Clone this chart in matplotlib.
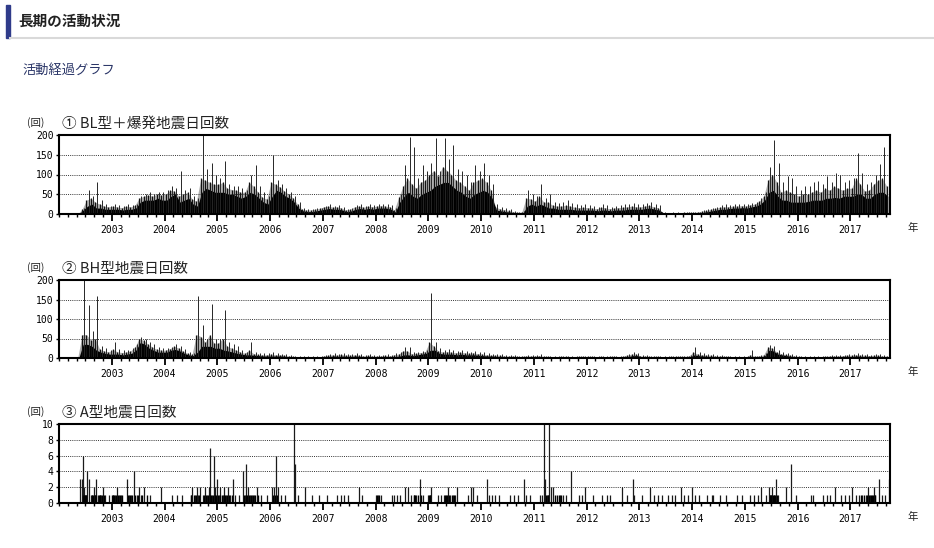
import numpy as np
import matplotlib
matplotlib.use("Agg")
import matplotlib.pyplot as plt
from matplotlib.ticker import FixedLocator

plt.rcParams['font.family'] = ['Noto Sans CJK JP', 'DejaVu Sans']

# monthly readings, Jan 2002 .. Sep 2017 (one row per year)
# base = dense daily level, mid = a typical spike, peak = highest day of month
bl_base = [
    0, 0, 0, 0, 0, 10, 20, 25, 15, 15, 12, 12,          # 2002
    12, 12, 10, 12, 12, 15, 30, 35, 35, 35, 40, 35,     # 2003
    35, 45, 50, 30, 35, 40, 25, 20, 55, 65, 60, 55,     # 2004
    55, 55, 50, 50, 45, 40, 45, 55, 50, 40, 30, 25,     # 2005
    45, 60, 55, 45, 40, 30, 15, 8, 6, 6, 8, 10,         # 2006
    12, 14, 12, 12, 10, 6, 8, 12, 14, 12, 14, 12,       # 2007
    15, 15, 15, 12, 5, 30, 45, 55, 45, 40, 50, 55,      # 2008
    60, 70, 75, 80, 80, 70, 60, 55, 45, 40, 50, 55,     # 2009
    60, 55, 40, 10, 8, 6, 5, 3, 2, 2, 20, 25,           # 2010
    20, 25, 20, 15, 15, 12, 12, 12, 12, 10, 10, 10,     # 2011
    10, 10, 8, 10, 10, 8, 10, 10, 10, 12, 12, 12,       # 2012
    12, 14, 15, 12, 10, 2, 1, 1, 1, 1, 2, 2,            # 2013
    2, 3, 4, 6, 8, 10, 12, 12, 14, 15, 15, 16,          # 2014
    15, 18, 20, 25, 35, 55, 60, 45, 35, 35, 30, 30,     # 2015
    30, 30, 32, 35, 35, 35, 40, 40, 42, 40, 45, 45,     # 2016
    45, 50, 50, 40, 40, 50, 55, 55, 45,                 # 2017
]
bl_mid = [
    0, 0, 0, 0, 0, 12, 35, 40, 30, 25, 20, 18,
    20, 18, 16, 20, 18, 22, 40, 45, 48, 45, 50, 48,
    50, 60, 58, 45, 50, 55, 38, 32, 90, 85, 80, 75,
    75, 80, 65, 62, 60, 55, 55, 80, 70, 55, 42, 38,
    80, 75, 68, 58, 50, 40, 25, 12, 10, 10, 12, 14,
    18, 20, 17, 18, 15, 10, 12, 18, 20, 17, 20, 18,
    20, 21, 20, 18, 10, 42, 70, 90, 75, 65, 80, 85,
    100, 110, 95, 120, 110, 100, 85, 80, 70, 60, 80, 85,
    90, 80, 60, 18, 13, 11, 9, 6, 4, 5, 40, 38,
    32, 45, 30, 30, 22, 20, 20, 22, 20, 17, 16, 17,
    16, 15, 13, 17, 16, 13, 15, 16, 17, 18, 20, 18,
    18, 20, 22, 18, 16, 4, 2, 3, 2, 2, 4, 4,
    4, 5, 7, 9, 12, 14, 17, 18, 18, 20, 20, 21,
    20, 23, 25, 32, 45, 85, 100, 80, 55, 60, 55, 50,
    45, 50, 50, 55, 60, 55, 65, 60, 70, 65, 60, 65,
    65, 90, 75, 58, 60, 75, 85, 90, 70,
]
bl_peak = [
    0, 0, 0, 0, 0, 15, 60, 45, 80, 35, 25, 20,
    25, 22, 20, 25, 22, 25, 45, 50, 55, 50, 55, 55,
    60, 70, 65, 110, 60, 65, 45, 40, 200, 115, 130, 100,
    90, 135, 75, 70, 70, 65, 60, 100, 125, 70, 55, 45,
    150, 85, 75, 65, 55, 45, 30, 15, 12, 12, 15, 15,
    20, 25, 20, 22, 18, 12, 15, 22, 25, 20, 25, 22,
    25, 25, 25, 22, 15, 50, 125, 195, 170, 90, 125, 110,
    130, 192, 110, 192, 140, 175, 115, 110, 100, 80, 125, 110,
    130, 100, 75, 25, 18, 15, 12, 8, 6, 8, 60, 50,
    45, 75, 40, 50, 30, 28, 30, 35, 28, 25, 22, 25,
    22, 20, 18, 25, 22, 18, 20, 22, 25, 25, 28, 25,
    25, 28, 30, 25, 22, 5, 3, 5, 4, 3, 5, 5,
    5, 6, 10, 12, 15, 18, 22, 25, 22, 25, 25, 25,
    25, 28, 30, 40, 55, 120, 188, 128, 80, 97, 90, 70,
    60, 70, 70, 80, 84, 75, 97, 80, 103, 100, 80, 85,
    90, 155, 105, 75, 80, 100, 127, 169, 100,
]
bh_base = [
    0, 0, 0, 0, 0, 35, 35, 30, 20, 15, 12, 10,
    10, 10, 8, 10, 12, 20, 40, 35, 25, 20, 15, 15,
    15, 20, 22, 18, 12, 8, 6, 15, 30, 30, 30, 25,
    25, 20, 18, 15, 12, 10, 8, 8, 7, 6, 5, 5,
    5, 5, 5, 4, 3, 2, 2, 1, 1, 2, 2, 2,
    3, 4, 5, 4, 5, 4, 4, 5, 4, 3, 4, 3,
    3, 3, 4, 3, 4, 5, 8, 8, 6, 8, 10, 12,
    20, 20, 12, 10, 10, 10, 8, 10, 8, 8, 8, 7,
    6, 5, 5, 4, 4, 3, 3, 3, 2, 2, 3, 3,
    3, 3, 2, 2, 2, 2, 2, 2, 2, 2, 2, 2,
    2, 2, 2, 2, 2, 2, 2, 2, 2, 4, 6, 6,
    3, 3, 2, 2, 2, 2, 2, 2, 2, 2, 2, 3,
    8, 6, 5, 4, 4, 3, 3, 2, 2, 2, 2, 2,
    2, 3, 2, 3, 5, 20, 18, 10, 8, 6, 4, 3,
    2, 2, 2, 2, 2, 2, 3, 3, 3, 3, 4, 4,
    4, 5, 4, 4, 4, 4, 4, 3, 3,
]
bh_mid = [
    0, 0, 0, 0, 0, 60, 60, 45, 50, 22, 18, 15,
    22, 16, 14, 15, 18, 28, 50, 45, 35, 28, 22, 20,
    20, 24, 30, 25, 17, 12, 9, 60, 55, 40, 60, 38,
    38, 50, 30, 25, 20, 15, 12, 20, 11, 9, 8, 8,
    10, 8, 8, 7, 5, 4, 3, 3, 3, 3, 3, 3,
    5, 7, 8, 7, 9, 7, 7, 8, 7, 5, 7, 5,
    5, 5, 7, 5, 8, 10, 18, 18, 10, 12, 14, 16,
    40, 30, 18, 15, 16, 15, 13, 15, 13, 12, 13, 11,
    10, 8, 7, 7, 7, 5, 5, 5, 4, 4, 5, 5,
    5, 6, 4, 4, 3, 3, 4, 4, 3, 3, 4, 4,
    4, 4, 3, 4, 3, 4, 4, 3, 4, 7, 10, 10,
    5, 5, 4, 4, 4, 3, 3, 4, 4, 4, 4, 5,
    15, 10, 8, 7, 7, 5, 5, 4, 4, 3, 3, 3,
    3, 8, 4, 5, 8, 28, 25, 15, 11, 9, 7, 5,
    4, 3, 3, 3, 3, 3, 4, 5, 5, 5, 6, 7,
    7, 8, 7, 7, 6, 7, 7, 5, 5,
]
bh_peak = [
    0, 0, 0, 0, 0, 200, 136, 70, 160, 30, 25, 20,
    40, 22, 20, 20, 25, 35, 55, 50, 42, 35, 28, 25,
    25, 28, 35, 30, 22, 15, 12, 158, 85, 50, 138, 50,
    50, 123, 40, 35, 30, 20, 15, 40, 15, 12, 12, 12,
    15, 12, 10, 10, 8, 6, 5, 4, 4, 5, 5, 5,
    8, 10, 12, 10, 14, 10, 10, 12, 10, 8, 10, 8,
    8, 8, 10, 8, 12, 15, 28, 28, 15, 15, 18, 20,
    166, 40, 25, 20, 22, 20, 18, 20, 18, 15, 18, 15,
    15, 12, 10, 10, 10, 8, 8, 8, 6, 6, 8, 8,
    8, 10, 6, 6, 5, 5, 6, 6, 5, 5, 6, 6,
    6, 6, 5, 6, 5, 6, 6, 5, 6, 10, 15, 14,
    8, 8, 6, 6, 6, 5, 5, 6, 6, 6, 6, 8,
    28, 15, 12, 10, 10, 8, 8, 6, 6, 5, 5, 5,
    5, 20, 6, 8, 12, 33, 30, 20, 15, 12, 10, 8,
    6, 5, 5, 5, 5, 5, 6, 8, 8, 8, 8, 10,
    10, 12, 10, 10, 8, 10, 10, 8, 8,
]

# A-type events: (decimal year, daily count)
a_years = [
    2002.40, 2002.43, 2002.46, 2002.48, 2002.50, 2002.54, 2002.57, 2002.60,
    2002.63, 2002.66, 2002.70, 2002.73, 2002.77, 2002.80, 2002.83, 2002.88,
    2002.94, 2003.02, 2003.06, 2003.10, 2003.14, 2003.18, 2003.29, 2003.33,
    2003.37, 2003.42, 2003.47, 2003.52, 2003.55, 2003.62, 2003.72, 2003.94,
    2004.14, 2004.24, 2004.33, 2004.50, 2004.53, 2004.57, 2004.61, 2004.64,
    2004.68, 2004.72, 2004.76, 2004.80, 2004.84, 2004.87, 2004.90, 2004.93,
    2004.96, 2005.00, 2005.03, 2005.06, 2005.10, 2005.13, 2005.17, 2005.20,
    2005.24, 2005.30, 2005.34, 2005.42, 2005.49, 2005.52, 2005.55, 2005.58,
    2005.62, 2005.66, 2005.70, 2005.75, 2005.82, 2005.94, 2006.04, 2006.08,
    2006.11, 2006.15, 2006.21, 2006.29, 2006.46, 2006.47, 2006.53, 2006.67,
    2006.79, 2006.93, 2007.08, 2007.27, 2007.34, 2007.41, 2007.48, 2007.68,
    2007.74, 2008.00, 2008.05, 2008.10, 2008.31, 2008.34, 2008.40, 2008.46,
    2008.55, 2008.61, 2008.67, 2008.72, 2008.77, 2008.84, 2008.89, 2009.00,
    2009.03, 2009.06, 2009.19, 2009.24, 2009.29, 2009.38, 2009.42, 2009.46,
    2009.50, 2009.54, 2009.76, 2009.80, 2009.84, 2009.92, 2010.11, 2010.15,
    2010.20, 2010.27, 2010.33, 2010.55, 2010.62, 2010.70, 2010.82, 2010.86,
    2010.92, 2011.11, 2011.15, 2011.20, 2011.22, 2011.25, 2011.27, 2011.29,
    2011.33, 2011.37, 2011.49, 2011.55, 2011.60, 2011.71, 2011.85, 2011.92,
    2011.96, 2012.12, 2012.29, 2012.38, 2012.45, 2012.68, 2012.76, 2012.87,
    2012.90, 2013.05, 2013.20, 2013.27, 2013.35, 2013.43, 2013.54, 2013.62,
    2013.67, 2013.78, 2013.85, 2013.92, 2014.00, 2014.05, 2014.13, 2014.28,
    2014.37, 2014.40, 2014.53, 2014.65, 2014.85, 2014.94, 2015.10, 2015.18,
    2015.24, 2015.31, 2015.40, 2015.45, 2015.48, 2015.51, 2015.55, 2015.58,
    2015.62, 2015.78, 2015.87, 2015.97, 2016.25, 2016.29, 2016.48, 2016.55,
    2016.61, 2016.70, 2016.83, 2016.90, 2016.98, 2017.03, 2017.10, 2017.16,
    2017.22, 2017.29, 2017.33, 2017.37, 2017.44, 2017.47, 2017.55, 2017.60,
    2017.66, 2017.74,
]
a_counts = [
    3, 3, 6, 2, 1, 4, 3, 1,
    1, 2, 3, 1, 1, 1, 2, 1,
    1, 1, 1, 2, 1, 1, 3, 1,
    1, 4, 1, 2, 1, 2, 1, 2,
    1, 1, 1, 1, 2, 1, 2, 1,
    2, 1, 2, 1, 2, 7, 1, 6,
    2, 3, 1, 2, 1, 2, 1, 2,
    1, 3, 1, 1, 4, 1, 5, 2,
    1, 1, 1, 2, 1, 1, 2, 2,
    6, 2, 1, 1, 10, 5, 1, 2,
    1, 1, 1, 1, 1, 1, 1, 2,
    1, 1, 1, 1, 1, 1, 1, 1,
    2, 2, 1, 1, 1, 3, 1, 1,
    1, 2, 1, 1, 1, 2, 1, 1,
    1, 2, 1, 2, 2, 1, 3, 1,
    1, 1, 1, 1, 1, 1, 3, 1,
    1, 1, 1, 10, 3, 1, 1, 10,
    2, 2, 1, 1, 1, 4, 1, 1,
    2, 1, 1, 1, 1, 2, 1, 3,
    1, 1, 2, 1, 1, 1, 1, 1,
    1, 2, 1, 1, 2, 1, 1, 1,
    1, 1, 1, 1, 1, 1, 1, 1,
    1, 2, 1, 2, 1, 2, 1, 3,
    1, 2, 5, 1, 1, 1, 1, 1,
    1, 2, 1, 1, 1, 2, 1, 1,
    1, 1, 2, 1, 2, 1, 3, 1,
    1, 3,
]
# further days with a single A-type event
a_single_years = [
    2002.45, 2002.47, 2002.49, 2002.51, 2002.52, 2002.62, 2002.64, 2002.68,
    2002.69, 2002.71, 2002.75, 2002.78, 2002.82, 2002.85, 2003.01, 2003.03,
    2003.04, 2003.08, 2003.12, 2003.16, 2003.20, 2003.31, 2003.35, 2003.39,
    2003.44, 2003.50, 2003.58, 2003.66, 2004.51, 2004.55, 2004.59, 2004.66,
    2004.74, 2004.78, 2004.82, 2004.86, 2004.89, 2004.92, 2004.95, 2004.98,
    2005.02, 2005.05, 2005.08, 2005.12, 2005.15, 2005.19, 2005.22, 2005.27,
    2005.51, 2005.54, 2005.57, 2005.60, 2005.64, 2005.68, 2005.72, 2005.78,
    2006.06, 2006.09, 2006.13, 2008.02, 2008.07, 2008.72, 2008.75, 2008.80,
    2008.86, 2009.01, 2009.04, 2009.31, 2009.34, 2009.36, 2009.40, 2009.44,
    2009.48, 2011.23, 2011.26, 2011.41, 2011.44, 2011.47, 2011.52, 2015.47,
    2015.49, 2015.50, 2015.53, 2015.56, 2015.57, 2015.60, 2017.20, 2017.26,
    2017.31, 2017.35, 2017.39, 2017.41, 2017.43, 2017.46,
]

panel_titles = ['① BL型＋爆発地震日回数', '② BH型地震日回数', '③ A型地震日回数']
year_labels = list(range(2003, 2018))
x_start, x_end = 2002.0, 2017.75

W, H = 934, 548
fig = plt.figure(figsize=(W / 100, H / 100), dpi=100)

# page header
fig.patches.append(plt.Rectangle((6 / W, 1 - 38 / H), 4 / W, 33 / H,
                                 transform=fig.transFigure, color='#2f3b8a'))
fig.add_artist(plt.Line2D([10 / W, 1], [1 - 38 / H, 1 - 38 / H],
                          transform=fig.transFigure, color='#d9d9d9', lw=1.5))
fig.text(18 / W, 1 - 21 / H, '長期の活動状況', fontsize=10.5, fontweight='bold',
         color='#222222', va='center')
fig.text(22 / W, 1 - 70 / H, '活動経過グラフ', fontsize=9.5, color='#2b3668', va='center')

tops = [135, 280, 424]
bottoms = [214, 358, 503]
month_start = np.arange(len(bl_base)) / 12 + x_start
months = month_start + 0.5 / 12
mid_x = month_start + 0.25 / 12
peak_x = month_start + 0.72 / 12


def setup_axis(ax, yticks, top_px, bottom_px, title):
    ax.set_xlim(x_start, x_end)
    ax.set_ylim(0, yticks[-1])
    ax.set_yticks(yticks)
    ax.set_yticklabels([str(v) for v in yticks], family='DejaVu Sans Mono', fontsize=7)
    ax.xaxis.set_major_locator(FixedLocator(year_labels))
    ax.set_xticklabels([str(y) for y in year_labels], family='DejaVu Sans Mono', fontsize=7)
    ax.xaxis.set_minor_locator(FixedLocator(np.arange(x_start, x_end, 1 / 6)))
    ax.tick_params(axis='x', which='major', length=5, width=1.3, pad=3, direction='out')
    ax.tick_params(axis='x', which='minor', length=2.5, width=1.0, direction='out')
    ax.tick_params(axis='y', length=2.5, width=1.0, pad=1.5)
    for sp in ax.spines.values():
        sp.set_linewidth(1.5)
    for v in yticks[1:-1]:
        ax.axhline(v, color='#333333', lw=0.7, ls=(0, (1, 1.2)), zorder=0)
    fig.text(62 / W, 1 - (top_px - 11) / H, title, fontsize=10.5, color='#222222', va='center')
    fig.text(27 / W, 1 - (top_px - 12) / H, '(回)', fontsize=7.5, color='#222222', va='center')
    fig.text(913 / W, 1 - (bottom_px + 14) / H, '年', fontsize=7.5, color='#222222',
             va='center', ha='center')


def make_axes(i):
    return fig.add_axes([59 / W, 1 - bottoms[i] / H, 831 / W, (bottoms[i] - tops[i]) / H])


def draw_counts(ax, base, mid, peak):
    # translucent band up to the typical spikes gives the dense daily texture
    ax.fill_between(mid_x, mid, color='#3a3a3a', alpha=0.4, lw=0)
    ax.fill_between(months, base, color='black', lw=0)
    ax.vlines(mid_x, 0, mid, color='#111111', lw=0.9)
    ax.vlines(peak_x, 0, peak, color='#262626', lw=0.7)


ax1 = make_axes(0)
draw_counts(ax1, bl_base, bl_mid, bl_peak)
setup_axis(ax1, [0, 50, 100, 150, 200], tops[0], bottoms[0], panel_titles[0])

ax2 = make_axes(1)
draw_counts(ax2, bh_base, bh_mid, bh_peak)
setup_axis(ax2, [0, 50, 100, 150, 200], tops[1], bottoms[1], panel_titles[1])

ax3 = make_axes(2)
ax3.vlines(a_years, 0, a_counts, color='#1a1a1a', lw=0.9)
ax3.vlines(a_single_years, 0, 1, color='black', lw=1.0)
setup_axis(ax3, [0, 2, 4, 6, 8, 10], tops[2], bottoms[2], panel_titles[2])

fig.savefig('out.png', dpi=100)
